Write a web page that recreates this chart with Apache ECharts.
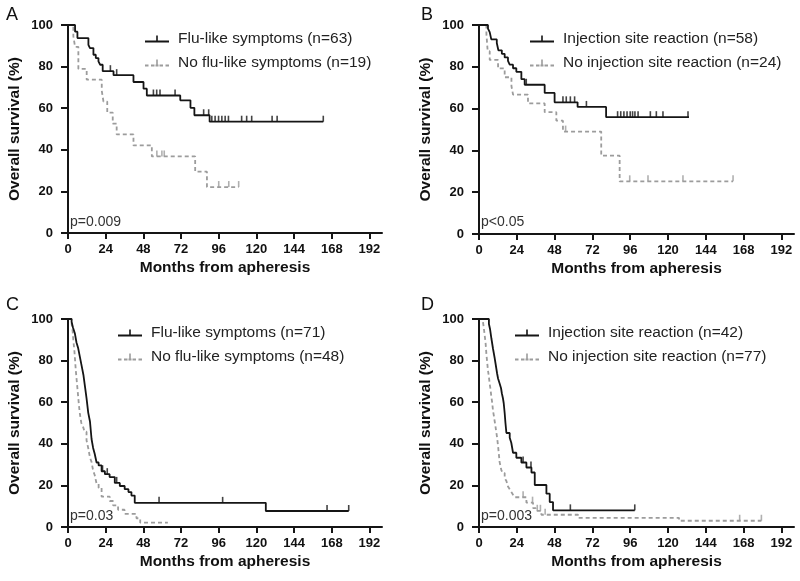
<!DOCTYPE html>
<html><head><meta charset="utf-8">
<script src="https://cdn.jsdelivr.net/npm/echarts@6/dist/echarts.min.js"></script>
<style>html,body{margin:0;padding:0;background:#fff}#c{width:800px;height:581px}</style>
</head><body><div id="c"></div>
<script>
// ---- axis ticks ----
const monthTicks = [0, 24, 48, 72, 96, 120, 144, 168, 192];
const survTicks = [0, 20, 40, 60, 80, 100];

// ---- Panel A ----
const aFluT = [0, 4.5, 6, 13, 14, 16.2, 17.7, 19.4, 20.5, 22.1, 29, 41.7, 48.1, 50.2, 71.5, 78, 80.5, 90.2, 162.6];
const aFluS = [100, 96.8, 93.7, 90.5, 88.9, 85.7, 84.1, 82.5, 80.9, 77.8, 75.9, 72.6, 69.4, 66.1, 63.8, 60.2, 56.6, 53.5, 53.5];
const aFluCens = [27, 31, 54.4, 56.5, 58.6, 68.2, 86.4, 89.6, 91.6, 93.7, 95.9, 98, 100.1, 102.2, 110.6, 113.8, 117, 130, 133.2, 162.6];
const aNoT = [0, 3.4, 4.5, 6.6, 11.9, 21.5, 22.6, 25, 28.5, 31, 41.7, 53.4, 81, 88.5, 108.7];
const aNoS = [100, 94.7, 89.5, 78.9, 73.7, 68.4, 63.2, 57.9, 52.6, 47.4, 42.1, 36.8, 29.5, 22.1, 22.1];
const aNoCens = [56.6, 59.8, 61.3, 96, 102.4, 108.7];

// ---- Panel B ----
const bInjT = [0, 5.7, 6.8, 7.8, 11.3, 12.3, 14.5, 16.3, 18.4, 19.5, 21.6, 23.7, 26.9, 29, 41.7, 48, 62.6, 80.7, 133.3];
const bInjS = [100, 98.3, 96.6, 93.1, 91.4, 87.9, 86.2, 84.5, 82.8, 81.0, 79.3, 77.6, 74.1, 71.4, 67.5, 63.0, 60.8, 55.9, 55.9];
const bInjCens = [30, 53.3, 55.4, 58, 60.7, 68.2, 88, 90, 92, 94, 96, 97.5, 99, 101, 108.8, 112.6, 116.8, 132.7];
const bNoT = [0, 4.7, 5.5, 6.8, 12.1, 16.3, 20.6, 21.6, 31.1, 41.7, 49.1, 53.3, 77.6, 89.3, 161.3];
const bNoS = [100, 95.8, 87.5, 83.3, 79.2, 75.0, 70.8, 66.7, 62.5, 58.3, 54.2, 49.0, 37.5, 25.2, 25.2];
const bNoCens = [55, 95.7, 107.3, 129.5, 161.3];

// ---- Panel C ----
const cFluT = [0, 2.3, 3.2, 4.4, 5.4, 6.5, 7.6, 8.7, 9.8, 10.8, 11.8, 12.9, 14, 15, 16, 17, 18.2, 19.5, 21.4, 23.5, 26.5, 29.8, 33, 36.1, 38.5, 40.4, 42.5, 126, 178.8];
const cFluS = [100, 98.6, 95.8, 93.0, 88.7, 85.9, 81.7, 77.5, 73.2, 67.6, 62.0, 54.9, 50.7, 42.3, 38.0, 35.2, 31.0, 29.6, 26.8, 25.4, 24.0, 21.2, 19.7, 18.2, 16.8, 15.1, 11.6, 7.7, 7.7];
const cFluCens = [22, 25, 31, 58, 98.5, 165, 178.8];
const cNoT = [0, 2.3, 3.0, 3.4, 4.0, 4.4, 5.0, 5.5, 6.0, 6.5, 7.0, 7.6, 8.5, 9.7, 10.5, 11.8, 13.0, 14.0, 15.0, 16.0, 17.0, 18.2, 19.5, 21.4, 26.6, 28.7, 31.9, 36, 43.6, 46, 63.6];
const cNoS = [100, 97.9, 93.8, 89.6, 85.4, 81.3, 75.0, 70.8, 66.7, 62.5, 58.3, 54.2, 50.0, 47.9, 45.8, 41.7, 37.5, 33.3, 31.3, 27.1, 25.0, 20.8, 18.8, 14.6, 12.5, 10.4, 8.3, 6.3, 4.2, 2.1, 2.1];
const cNoCens = [];

// ---- Panel D ----
const dInjT = [0, 6.3, 7.0, 7.9, 8.9, 10.0, 10.5, 11.0, 11.5, 12.1, 13.1, 14.0, 14.5, 15.2, 15.7, 16.3, 16.8, 17.4, 19.5, 20.5, 21.6, 23.7, 26.9, 30.1, 33.3, 35.4, 42.8, 44.9, 47.0, 98.9];
const dInjS = [100, 97.6, 95.2, 90.5, 85.7, 81.0, 78.6, 76.2, 73.8, 71.4, 69.0, 66.7, 64.3, 61.9, 59.5, 54.8, 50.0, 45.2, 42.9, 40.5, 35.7, 33.3, 31.0, 28.6, 26.2, 20.2, 16.0, 12.0, 8.0, 8.0];
const dInjCens = [28, 33, 58, 98.9];
const dNoT = [0, 2.5, 3.0, 3.6, 4.2, 4.7, 5.2, 5.7, 6.2, 6.8, 7.3, 7.9, 8.4, 8.9, 9.5, 10.0, 10.5, 11.0, 11.5, 12.1, 12.6, 13.1, 14.2, 15.0, 16.3, 17.4, 18.4, 19.5, 20.5, 21.5, 22.6, 30.1, 34.3, 36.0, 39.6, 62.9, 127, 179.3];
const dNoS = [100, 98.7, 96.1, 92.2, 88.3, 83.1, 79.2, 75.3, 72.7, 68.8, 66.2, 62.3, 59.7, 55.8, 53.2, 50.6, 48.1, 45.5, 42.9, 39.0, 35.1, 31.2, 27.3, 26.0, 23.4, 22.1, 19.5, 18.2, 16.9, 15.6, 14.3, 11.7, 9.1, 7.8, 5.9, 4.4, 3.0, 3.0];
const dNoCens = [28, 34, 37, 39, 42, 165.5, 179.3];

// ---- labels ----
const panelLetters = ['A', 'B', 'C', 'D'];
const pValues = ['p=0.009', 'p<0.05', 'p=0.03', 'p=0.003'];
const seriesNames = [
  ['Flu-like symptoms (n=63)', 'No flu-like symptoms (n=19)'],
  ['Injection site reaction (n=58)', 'No injection site reaction (n=24)'],
  ['Flu-like symptoms (n=71)', 'No flu-like symptoms (n=48)'],
  ['Injection site reaction (n=42)', 'No injection site reaction (n=77)']
];
const xTitle = 'Months from apheresis';
const yTitle = 'Overall survival (%)';

const panels = [
  {t1: aFluT, s1: aFluS, c1: aFluCens, t2: aNoT, s2: aNoS, c2: aNoCens},
  {t1: bInjT, s1: bInjS, c1: bInjCens, t2: bNoT, s2: bNoS, c2: bNoCens},
  {t1: cFluT, s1: cFluS, c1: cFluCens, t2: cNoT, s2: cNoS, c2: cNoCens},
  {t1: dInjT, s1: dInjS, c1: dInjCens, t2: dNoT, s2: dNoS, c2: dNoCens}
];

// layout
const grids = [
  {left: 68, top: 25, width: 314, height: 208},
  {left: 479, top: 25, width: 315, height: 209},
  {left: 68, top: 319, width: 314, height: 208},
  {left: 479, top: 319, width: 315, height: 208}
];
const legendPos = [{left: 145, top: 31}, {left: 530, top: 31}, {left: 118, top: 325}, {left: 515, top: 325}];
const letterPos = [[6, 6], [421, 6], [6, 296], [421, 296]];
const pPos = [[70, 215], [481, 215], [70, 509], [481, 509]];

const BLACK = '#151515', GRAY = '#9c9c9c';
const FONT = 'Liberation Sans, Arial, Helvetica, sans-serif';
const iconSolid = 'path://M0,5 L24,5 L24,7 L0,7 Z M11.2,0 L12.8,0 L12.8,5 L11.2,5 Z';
const iconDash = 'path://M0,5 L3.5,5 L3.5,7 L0,7 Z M6,5 L9.5,5 L9.5,7 L6,7 Z M10.5,5 L13.5,5 L13.5,7 L10.5,7 Z M11.2,0 L12.8,0 L12.8,5 L11.2,5 Z M14.5,5 L18,5 L18,7 L14.5,7 Z M20.5,5 L24,5 L24,7 L20.5,7 Z';
const tickSym = 'path://M0,0 L1,0 L1,1 L0,1 Z';

function stepAt(T, S, t) { let v = S[0]; for (let i = 0; i < T.length; i++) { if (T[i] <= t) v = S[i]; } return v; }
function pairs(T, S) { return T.map((t, i) => [t, S[i]]); }

const option = {animation: false, grid: [], xAxis: [], yAxis: [], series: [], legend: [], graphic: []};
panels.forEach((p, k) => {
  option.grid.push(Object.assign({containLabel: false}, grids[k]));
  option.xAxis.push({
    type: 'value', gridIndex: k, min: 0, max: 200,
    axisLine: {show: true, lineStyle: {color: BLACK, width: 2}},
    axisTick: {show: true, length: 6, lineStyle: {color: BLACK, width: 2}, customValues: monthTicks},
    axisLabel: {customValues: monthTicks, color: '#111', fontSize: 13, fontWeight: 'bold', fontFamily: FONT, margin: 10},
    splitLine: {show: false},
    name: xTitle, nameLocation: 'middle', nameGap: 27,
    nameTextStyle: {color: '#111', fontSize: 15.5, fontWeight: 'bold', fontFamily: FONT}
  });
  option.yAxis.push({
    type: 'value', gridIndex: k, min: 0, max: 100, interval: 20,
    axisLine: {show: true, lineStyle: {color: BLACK, width: 2}},
    axisTick: {show: true, length: 7, lineStyle: {color: BLACK, width: 2}},
    axisLabel: {color: '#111', fontSize: 13, fontWeight: 'bold', fontFamily: FONT, margin: 15},
    splitLine: {show: false},
    name: yTitle, nameLocation: 'middle', nameGap: 45, nameRotate: 90,
    nameTextStyle: {color: '#111', fontSize: 15.5, fontWeight: 'bold', fontFamily: FONT}
  });
  option.series.push({
    type: 'line', name: seriesNames[k][0], xAxisIndex: k, yAxisIndex: k, step: 'end', showSymbol: false,
    data: pairs(p.t1, p.s1), color: BLACK, lineStyle: {color: BLACK, width: 1.8}, z: 3
  });
  option.series.push({
    type: 'line', name: seriesNames[k][1], xAxisIndex: k, yAxisIndex: k, step: 'end', showSymbol: false,
    data: pairs(p.t2, p.s2), color: GRAY, lineStyle: {color: GRAY, width: 1.8, type: [4, 3]}, z: 2
  });
  option.series.push({
    type: 'scatter', xAxisIndex: k, yAxisIndex: k, symbol: tickSym, symbolSize: [1.6, 6], symbolOffset: [0, -3],
    data: p.c1.map(t => [t, stepAt(p.t1, p.s1, t)]), itemStyle: {color: BLACK}, z: 4, silent: true
  });
  option.series.push({
    type: 'scatter', xAxisIndex: k, yAxisIndex: k, symbol: tickSym, symbolSize: [1.6, 6], symbolOffset: [0, -3],
    data: p.c2.map(t => [t, stepAt(p.t2, p.s2, t)]), itemStyle: {color: GRAY}, z: 4, silent: true
  });
  option.legend.push(Object.assign({
    orient: 'vertical', padding: 0, itemWidth: 24, itemHeight: 7, itemGap: 8, symbolKeepAspect: false,
    selectedMode: false,
    data: [{name: seriesNames[k][0], icon: iconSolid}, {name: seriesNames[k][1], icon: iconDash}],
    itemStyle: {borderWidth: 0},
    textStyle: {color: '#222', fontSize: 15.5, fontFamily: FONT, lineHeight: 16, padding: [0, 0, 0, 4]}
  }, legendPos[k]));
  option.graphic.push({type: 'text', left: letterPos[k][0], top: letterPos[k][1],
    style: {text: panelLetters[k], fontSize: 18, fill: '#111', fontFamily: FONT}});
  option.graphic.push({type: 'text', left: pPos[k][0], top: pPos[k][1],
    style: {text: pValues[k], fontSize: 14, fill: '#333', fontFamily: FONT}});
});

const chart = echarts.init(document.getElementById('c'), null, {renderer: 'canvas'});
chart.setOption(option);
</script></body></html>
